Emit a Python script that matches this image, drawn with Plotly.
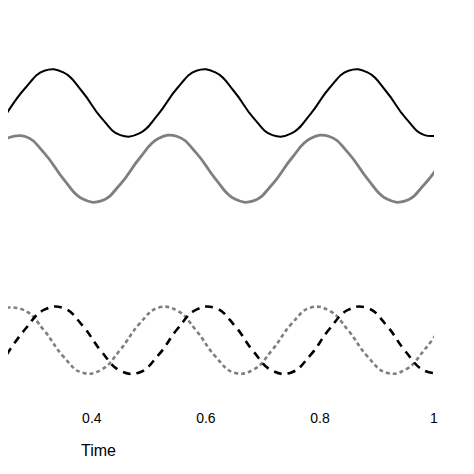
import plotly.graph_objects as go

# time samples (s)
time = [0.25 + k / 30 for k in range(24)]

# signals (offset units)
black_solid = [7.0 + v for v in [-0.33, 0.44, 0.95, 0.90, 0.33, -0.44, -0.95, -0.90] * 3]
gray_solid = [5.06 + v for v in [0.89, 0.95, 0.46, -0.30, -0.89, -0.95, -0.46, 0.30] * 3]
gray_dashed = [0.96, 0.87, 0.28, -0.48, -0.96, -0.87, -0.28, 0.48] * 3
black_dashed = [-0.44, 0.33, 0.90, 0.95, 0.44, -0.33, -0.90, -0.95] * 3

tick_vals = [0.4, 0.6, 0.8, 1.0]
tick_text = ["0.4", "0.6", "0.8", "1"]

fig = go.Figure()
fig.add_trace(go.Scatter(x=time, y=black_solid, mode="lines",
                         line=dict(color="black", width=2, shape="spline", smoothing=1.3)))
fig.add_trace(go.Scatter(x=time, y=gray_solid, mode="lines",
                         line=dict(color="#7f7f7f", width=2.8, shape="spline", smoothing=1.3)))
fig.add_trace(go.Scatter(x=time, y=gray_dashed, mode="lines",
                         line=dict(color="#7f7f7f", width=2.6, dash="4px,3px", shape="spline", smoothing=1.3)))
fig.add_trace(go.Scatter(x=time, y=black_dashed, mode="lines",
                         line=dict(color="black", width=2.6, dash="8px,6px", shape="spline", smoothing=1.3)))

fig.update_layout(
    width=474, height=474, showlegend=False,
    margin=dict(l=0, r=48, t=0, b=74),
    plot_bgcolor="white", paper_bgcolor="white",
    font=dict(family="Liberation Sans, Arial", size=14, color="black"),
    xaxis=dict(range=[0.253, 1.0], tickvals=tick_vals, ticktext=tick_text,
               showgrid=False, zeroline=False, showline=False, ticks="", ticklabelstandoff=0),
    yaxis=dict(range=[-2.0, 9.8], visible=False),
)
fig.add_annotation(text="Time", x=90 / 426, y=-42 / 400, xref="x domain", yref="paper",
                   showarrow=False, xanchor="center", yanchor="middle", font=dict(size=16))
fig.add_shape(type="rect", xref="paper", yref="paper", x0=-0.01, x1=1.2, y0=-74 / 400, y1=-70 / 400,
              fillcolor="#e0e0e0", line_width=0)

fig.write_html("out.html")
